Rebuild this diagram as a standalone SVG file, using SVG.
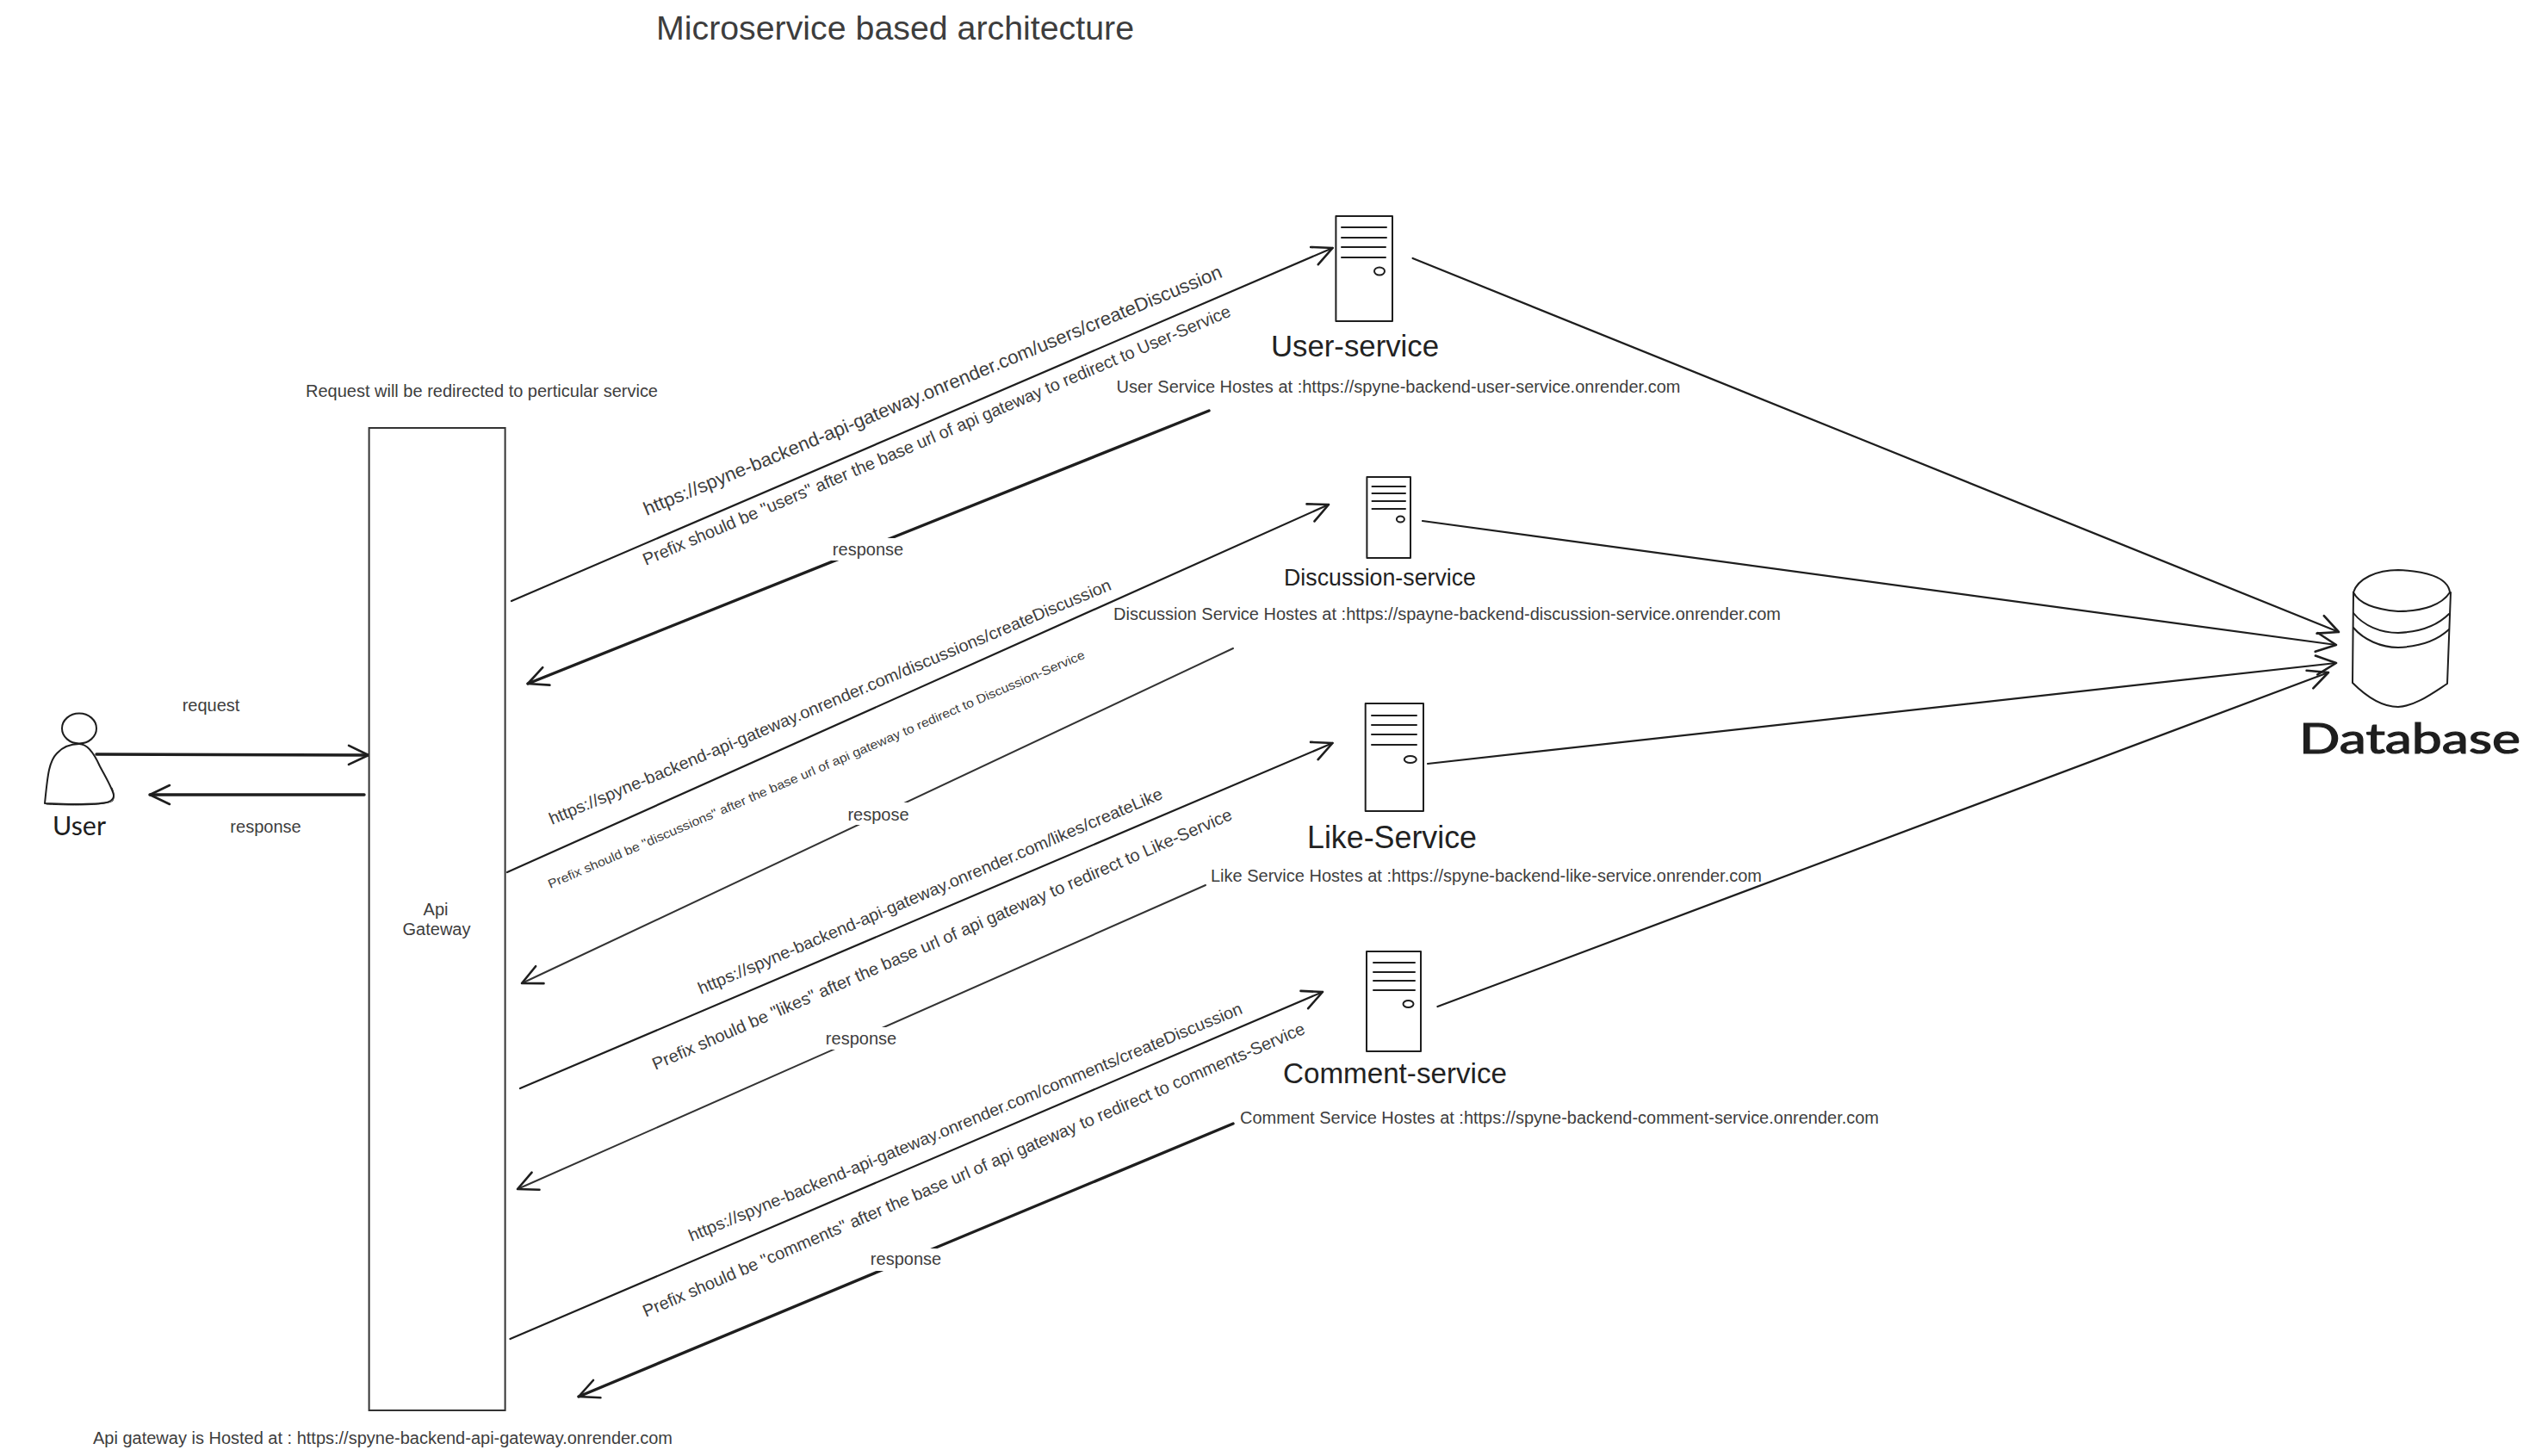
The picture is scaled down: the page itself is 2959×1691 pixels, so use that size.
<svg xmlns="http://www.w3.org/2000/svg" width="2959" height="1691" viewBox="0 0 2959 1691">
<style>
text{font-family:"Liberation Sans",Arial,sans-serif;fill:#3d3d3d}
.s20{font-size:20px}.s22{font-size:22px}.s19{font-size:19.5px}.s14{font-size:14.5px}
.mid{text-anchor:middle}
text.hand{font-family:"Lato","Noto Sans",sans-serif;fill:#1e1e1e}
text.svc{fill:#222}
.sk{fill:none;stroke:#1e1e1e;stroke-width:2;stroke-linecap:round;stroke-linejoin:round}
.box{fill:#fff;stroke:#333;stroke-width:2}
.ln{fill:none;stroke:#1e1e1e;stroke-width:2.2;stroke-linecap:round}
.thick{stroke-width:3.4}
.grey{stroke:#333;stroke-width:2}
.arr{marker-end:url(#head)}
.mask{fill:#fff}
</style>
<defs>
<marker id="head" markerUnits="userSpaceOnUse" markerWidth="60" markerHeight="60" refX="30" refY="30" orient="auto" overflow="visible">
<path d="M7,19 L30,30 L7,41" fill="none" stroke="#1e1e1e" stroke-width="2.6" stroke-linecap="round" stroke-linejoin="round"/>
</marker>
</defs>
<text id="title" x="762" y="46" font-size="38" textLength="555" lengthAdjust="spacingAndGlyphs">Microservice based architecture</text>
<g id="connectors">
<path class="ln thick arr" d="M112,876 L428,877"/>
<path class="ln thick arr" d="M423,923 L174,923"/>
<path class="ln arr" d="M594,698 L1547.6,288"/>
<path class="ln thick arr" d="M1404,477 L613,794"/>
<path class="ln arr" d="M589,1013 L1543,586"/>
<path class="ln grey arr" d="M1432,753 L606,1142"/>
<path class="ln arr" d="M604,1264 L1547.5,863"/>
<path class="ln grey arr" d="M1400,1028 L601,1381"/>
<path class="ln arr" d="M592.5,1555 L1536,1152"/>
<path class="ln thick arr" d="M1432,1305 L672,1622"/>
<path class="ln arr" d="M1640.6,300 L2716,734"/>
<path class="ln arr" d="M1652,605 L2713,749"/>
<path class="ln arr" d="M1658,887 L2713,770"/>
<path class="ln arr" d="M1669.5,1169 L2704,781"/>
<g id="connector-labels">
<rect class="mask" x="964" y="625" width="87" height="26"/><text class="s20 mid" x="1008" y="645">response</text>
<rect class="mask" x="982" y="932" width="75" height="26"/><text class="s20 mid" x="1020" y="953">respose</text>
<rect class="mask" x="956" y="1193" width="87" height="26"/><text class="s20 mid" x="1000" y="1213">response</text>
<rect class="mask" x="1008" y="1450" width="87" height="26"/><text class="s20 mid" x="1052" y="1469">response</text>
<text class="s20 mid" x="245" y="826">request</text>
<text class="s20 mid" x="308.5" y="967">response</text>
<text class="s22" transform="translate(751,599) rotate(-22.5)" textLength="725" lengthAdjust="spacingAndGlyphs">https://spyne-backend-api-gateway.onrender.com/users/createDiscussion</text>
<text class="s20" transform="translate(750,657) rotate(-23.1)" textLength="740" lengthAdjust="spacingAndGlyphs">Prefix should be "users" after the base url of api gateway to redirect to User-Service</text>
<text class="s19" transform="translate(641,958) rotate(-22.8)" textLength="706" lengthAdjust="spacingAndGlyphs">https://spyne-backend-api-gateway.onrender.com/discussions/createDiscussion</text>
<text class="s14" transform="translate(639,1032) rotate(-23.3)" textLength="677" lengthAdjust="spacingAndGlyphs">Prefix should be "discussions" after the base url of api gateway to redirect to Discussion-Service</text>
<text class="s19" transform="translate(814,1155) rotate(-23)" textLength="584" lengthAdjust="spacingAndGlyphs">https://spyne-backend-api-gateway.onrender.com/likes/createLike</text>
<text class="s20" transform="translate(761,1243) rotate(-23.5)" textLength="732" lengthAdjust="spacingAndGlyphs">Prefix should be "likes" after the base url of api gateway to redirect to Like-Service</text>
<text class="s19" transform="translate(803,1442) rotate(-22.5)" textLength="694" lengthAdjust="spacingAndGlyphs">https://spyne-backend-api-gateway.onrender.com/comments/createDiscussion</text>
<text class="s20" transform="translate(750,1530) rotate(-23.3)" textLength="835" lengthAdjust="spacingAndGlyphs">Prefix should be "comments" after the base url of api gateway to redirect to comments-Service</text>
</g>
</g>
<g id="user">
<ellipse class="sk" cx="92" cy="846" rx="20" ry="17.5"/>
<path class="sk" d="M52,933 C55,905 56,885 66,875 C74,866 85,864 92,864 C100,864 108,872 116,890 C124,905 133,920 132,925 C131,933 120,934 80,934 Z"/>
<path class="sk" style="stroke-width:1" d="M54,934 C90,936 125,935 131,930 C133,926 133,922 130,915"/>
<text class="hand" x="61" y="970" font-size="30" textLength="62" lengthAdjust="spacingAndGlyphs">User</text>
</g>
<g id="api-gateway">
<rect class="box" x="428.6" y="497" width="158" height="1141"/>
<text class="s20 mid" x="506" y="1063">Api</text>
<text class="s20 mid" x="507" y="1086">Gateway</text>
<text class="s20" x="355" y="461" textLength="409" lengthAdjust="spacingAndGlyphs">Request will be redirected to perticular service</text>
<text class="s20" x="108" y="1677" textLength="673" lengthAdjust="spacingAndGlyphs">Api gateway is Hosted at : https://spyne-backend-api-gateway.onrender.com</text>
</g>
<g id="user-service">
<rect class="sk" x="1551.4" y="251" width="65.6" height="122"/>
<path class="sk" d="M1558,264H1610M1558,276H1610M1558,287H1609M1558,299H1609"/>
<ellipse class="sk" cx="1602" cy="315" rx="6" ry="4.5"/>
<text class="svc" x="1476" y="414" font-size="35" textLength="195" lengthAdjust="spacingAndGlyphs">User-service</text>
<text class="s20" x="1296.5" y="456" textLength="655" lengthAdjust="spacingAndGlyphs">User Service Hostes at :https://spyne-backend-user-service.onrender.com</text>
</g>
<g id="discussion-service">
<rect class="sk" x="1587.4" y="554" width="50.6" height="94"/>
<path class="sk" d="M1593.5,565H1632M1593.5,573H1632M1593.5,582H1632M1593.5,591H1632"/>
<ellipse class="sk" cx="1626.4" cy="603" rx="4.5" ry="3.5"/>
<text class="svc" x="1491" y="680" font-size="28" textLength="223" lengthAdjust="spacingAndGlyphs">Discussion-service</text>
<text class="s20" x="1293" y="720" textLength="775" lengthAdjust="spacingAndGlyphs">Discussion Service Hostes at :https://spayne-backend-discussion-service.onrender.com</text>
</g>
<g id="like-service">
<rect class="sk" x="1585.7" y="817" width="67.3" height="125"/>
<path class="sk" d="M1593,831H1645M1593,842H1645M1593,853H1645M1593,865H1645"/>
<ellipse class="sk" cx="1637.8" cy="882" rx="7" ry="4"/>
<text class="svc" x="1518" y="985" font-size="36" textLength="197" lengthAdjust="spacingAndGlyphs">Like-Service</text>
<text class="s20" x="1406" y="1024" textLength="640" lengthAdjust="spacingAndGlyphs">Like Service Hostes at :https://spyne-backend-like-service.onrender.com</text>
</g>
<g id="comment-service">
<rect class="sk" x="1587" y="1105" width="63" height="116"/>
<path class="sk" d="M1595,1118H1643M1595,1129H1643M1595,1139H1643M1595,1150H1643"/>
<ellipse class="sk" cx="1635.5" cy="1166" rx="6" ry="4"/>
<text class="svc" x="1490" y="1258" font-size="33" textLength="260" lengthAdjust="spacingAndGlyphs">Comment-service</text>
<text class="s20" x="1440" y="1305" textLength="742" lengthAdjust="spacingAndGlyphs">Comment Service Hostes at :https://spyne-backend-comment-service.onrender.com</text>
</g>
<g id="database">
<path class="sk" d="M2733,688 C2738,672 2760,662 2785,662 C2815,663 2843,670 2845,688 C2836,702 2815,710 2785,710 C2760,708 2740,702 2733,688 Z"/>
<path class="sk" d="M2733,688 L2732,793 C2745,806 2765,821 2785,821 C2805,820 2825,805 2842,794 L2846,688"/>
<path class="sk" d="M2733,712 C2745,727 2765,735 2785,735 C2810,734 2830,727 2844,713"/>
<path class="sk" d="M2733,729 C2745,743 2765,752 2785,752 C2810,751 2830,744 2844,731"/>
<text class="hand" x="2670" y="875" font-size="48" textLength="257" lengthAdjust="spacingAndGlyphs" stroke="#1e1e1e" stroke-width="1.2">Database</text>
</g>
</svg>
